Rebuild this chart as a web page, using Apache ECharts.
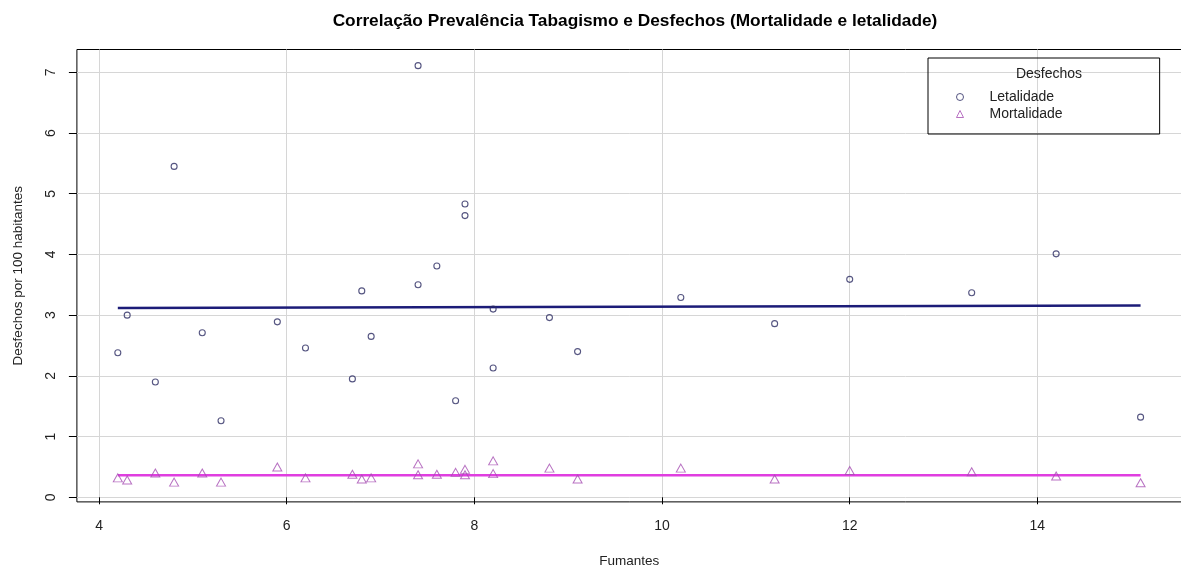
<!DOCTYPE html>
<html>
<head>
<meta charset="utf-8">
<script src="https://cdn.jsdelivr.net/npm/echarts@6/dist/echarts.min.js"></script>
<style>
  html, body { margin: 0; padding: 0; background: #fff; }
  #main { width: 1181px; height: 574px; }
</style>
</head>
<body>
<div id="main"></div>
<script>
// prevalência de fumantes (%) por UF
var fumantes = [4.2, 4.3, 4.6, 4.8, 5.1, 5.3, 5.9, 6.2, 6.7, 6.8, 6.9, 7.4, 7.4, 7.6,
  7.8, 7.9, 7.9, 8.2, 8.2, 8.8, 9.1, 10.2, 11.2, 12.0, 13.3, 14.2, 15.1];
var letalidade = [2.38, 3.00, 1.90, 5.45, 2.71, 1.26, 2.89, 2.46, 1.95, 3.40, 2.65, 7.11, 3.50, 3.81,
  1.59, 4.83, 4.64, 3.10, 2.13, 2.96, 2.40, 3.29, 2.86, 3.59, 3.37, 4.01, 1.32];
var mortalidade = [0.32, 0.285, 0.40, 0.25, 0.40, 0.25, 0.50, 0.32, 0.38, 0.30, 0.32, 0.55, 0.37, 0.38,
  0.41, 0.46, 0.37, 0.60, 0.39, 0.48, 0.30, 0.48, 0.30, 0.44, 0.42, 0.35, 0.24];

// linhas ajustadas (extremos)
var ajusteX = [4.2, 15.1];
var ajusteLetalidade = [3.12, 3.16];
var ajusteMortalidade = [0.365, 0.362];

var xTicks = [4, 6, 8, 10, 12, 14];
var yTicks = [0, 1, 2, 3, 4, 5, 6, 7];

function pares(xs, ys) {
  return xs.map(function (x, i) { return [x, ys[i]]; });
}

var corLetal = '#2a2a62';
var corMort = '#a64fb3';
var font = 'Liberation Sans, Arial, sans-serif';

var chart = echarts.init(document.getElementById('main'));
chart.setOption({
  animation: false,
  textStyle: { fontFamily: font },
  title: [{
    text: 'Correlação Prevalência Tabagismo e Desfechos (Mortalidade e letalidade)',
    left: 630, top: 8, textAlign: 'center',
    textStyle: { fontSize: 17.3, fontWeight: 'bold', color: '#000', fontFamily: font }
  }, {
    text: 'Desfechos',
    left: 1044, top: 62, textAlign: 'center',
    textStyle: { fontSize: 14, fontWeight: 'normal', color: '#222', fontFamily: font }
  }],
  legend: {
    orient: 'vertical',
    left: 928, top: 58,
    padding: [32, 97, 13, 28],
    itemWidth: 7, itemHeight: 7, itemGap: 3,
    borderColor: '#000', borderWidth: 1,
    itemStyle: { borderWidth: 1 },
    textStyle: { fontSize: 14, color: '#222', padding: [0, 0, 0, 21], fontFamily: font },
    data: [
      { name: 'Letalidade', icon: 'circle' },
      { name: 'Mortalidade', icon: 'triangle' }
    ]
  },
  grid: {
    left: 76.9, top: 49.5, width: 1104.6, height: 452.4,
    outerBoundsMode: 'none', containLabel: false,
    show: true, borderColor: '#000', borderWidth: 1, backgroundColor: 'transparent'
  },
  xAxis: {
    type: 'value', min: 3.764, max: 15.536,
    name: 'Fumantes', nameLocation: 'middle', nameGap: 52,
    nameTextStyle: { fontSize: 13.5, color: '#222', fontFamily: font },
    axisLine: { show: false },
    axisTick: { show: true, length: 7, lineStyle: { color: '#000' }, customValues: xTicks },
    axisLabel: { fontSize: 14, color: '#222', margin: 17, customValues: xTicks, fontFamily: font },
    splitLine: { show: true, lineStyle: { color: '#d6d6d6', width: 1 } }
  },
  yAxis: {
    type: 'value', min: -0.076, max: 7.376,
    name: 'Desfechos por 100 habitantes', nameLocation: 'middle', nameGap: 52,
    nameTextStyle: { fontSize: 13.5, color: '#222', fontFamily: font },
    axisLine: { show: false },
    axisTick: { show: true, length: 8, lineStyle: { color: '#000' }, customValues: yTicks },
    axisLabel: { fontSize: 14, color: '#222', rotate: 90, margin: 19, customValues: yTicks, fontFamily: font },
    splitLine: { show: true, lineStyle: { color: '#d6d6d6', width: 1 } }
  },
  series: [{
    name: 'Letalidade',
    type: 'scatter',
    symbol: 'circle', symbolSize: 6,
    itemStyle: { color: 'rgba(255,255,255,0)', borderColor: corLetal, borderWidth: 1.1 },
    data: pares(fumantes, letalidade),
    z: 3
  }, {
    name: 'Mortalidade',
    type: 'scatter',
    symbol: 'triangle', symbolSize: [9, 8],
    itemStyle: { color: 'rgba(255,255,255,0)', borderColor: corMort, borderWidth: 1 },
    data: pares(fumantes, mortalidade),
    z: 3
  }, {
    name: 'ajuste letalidade',
    type: 'line',
    showSymbol: false,
    lineStyle: { color: '#1c1c78', width: 2.5 },
    data: pares(ajusteX, ajusteLetalidade),
    z: 2
  }, {
    name: 'ajuste mortalidade',
    type: 'line',
    showSymbol: false,
    lineStyle: { color: '#e03ee0', width: 2.5 },
    data: pares(ajusteX, ajusteMortalidade),
    z: 2
  }]
});
</script>
</body>
</html>
